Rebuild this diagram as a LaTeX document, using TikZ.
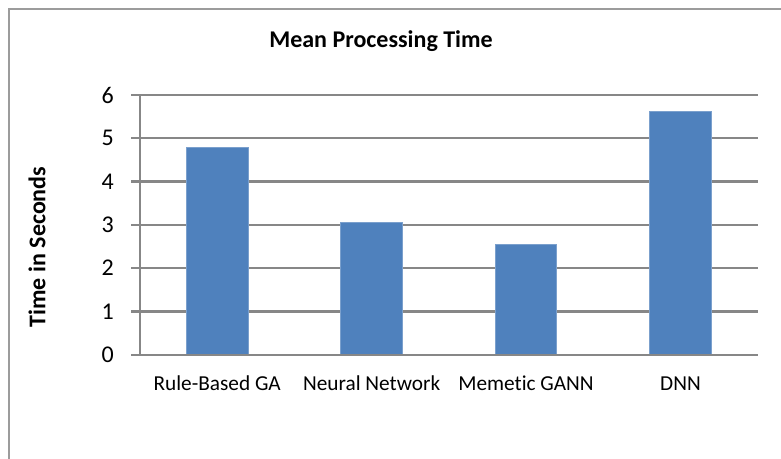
\documentclass[tikz,border=0pt]{standalone}
\usepackage{fontspec}
\setmainfont[Ligatures={NoCommon}]{Carlito}
\definecolor{barblue}{HTML}{4F81BD}
\definecolor{gridgray}{HTML}{878787}
\definecolor{framegray}{HTML}{9C9C9C}
\begin{document}
\begin{tikzpicture}[x=1pt,y=-1pt,
  gridline/.style={draw=gridgray,line width=2.2pt},
  barbox/.style={fill=barblue,draw=barblue!75!white,line width=0.8pt},
  ticklbl/.style={anchor=east,inner sep=0pt,font=\fontsize{24}{24}\selectfont},
  catlbl/.style={anchor=base,inner sep=0pt,font=\fontsize{21.3}{22}\selectfont},
  titlelbl/.style={anchor=base,inner sep=0pt,font=\fontsize{24}{24}\selectfont\bfseries},
  frame/.style={draw=framegray,line width=2pt}]
\useasboundingbox (0,0) rectangle (781,458);
\clip (0,0) rectangle (781,458);
\draw[frame] (9,9) rectangle (820,500);
% gridlines and tick labels
\foreach \v in {0,...,6}{
  \pgfmathsetmacro{\yy}{354.7-\v*43.28}
  \coordinate (gl\v) at (131,\yy);
  \coordinate (gr\v) at (757.7,\yy);
  \node[ticklbl] (tick\v) at (114,\yy) {\v};
}
\foreach \v in {1,...,6}{ \draw[gridline] (gl\v) -- (gr\v); }
% bars
\foreach \c/\h/\n in {217.2/4.78/b1,371.6/3.05/b2,526/2.55/b3,680.5/5.63/b4}{
  \pgfmathsetmacro{\xl}{\c-30.8}
  \pgfmathsetmacro{\xr}{\c+30.8}
  \pgfmathsetmacro{\yt}{354.7-\h*43.28}
  \path[barbox] (\xl,354.7) rectangle (\xr,\yt);
  \coordinate (\n) at (\c,390);
}
% axes
\coordinate (ybot) at (140,354.7);
\coordinate (ytop) at (140,94.8);
\draw[gridline] (ybot) -- (ytop);
\draw[gridline] (gl0) -- (gr0);
% category labels
\node[catlbl] (c1) at (b1) {Rule-Based GA};
\node[catlbl] (c2) at (b2) {Neural Network};
\node[catlbl] (c3) at (b3) {Memetic GANN};
\node[catlbl] (c4) at (b4) {DNN};
% title and axis title
\node[titlelbl] (title) at (381,47) {Mean Processing Time};
\node[inner sep=0pt,rotate=90,font=\fontsize{24}{24}\selectfont\bfseries] (ytitle) at (37,247) {Time in Seconds};
\end{tikzpicture}
\end{document}
